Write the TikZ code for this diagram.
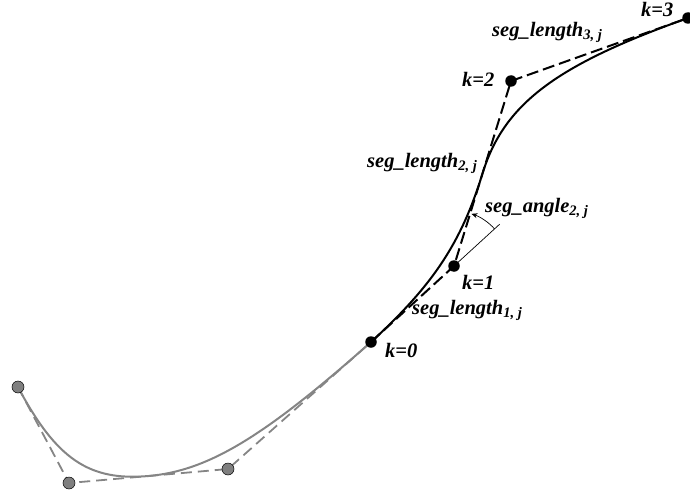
\documentclass[tikz,border=0pt]{standalone}
\usepackage{fontspec}
\setmainfont{Liberation Serif}
\usepackage{tikz}
\usetikzlibrary{arrows.meta, calc}
\definecolor{grayline}{HTML}{858585}
\definecolor{grayfill}{HTML}{7F7F7F}
\newcommand{\lblfont}{\bfseries\itshape\fontsize{20.5}{23}\selectfont}
\newcommand{\lsub}[1]{\raisebox{-3pt}{\fontsize{14.5}{15}\selectfont #1}}
\newcommand{\ff}{0.75}
\tikzset{
    ptblack/.style={circle, fill=black, inner sep=0pt, minimum size=11.5pt},
    ptgray/.style={circle, fill=grayfill, draw=black, line width=0.5pt, inner sep=0pt, minimum size=12pt},
    curveblack/.style={line width=2pt},
    polyblack/.style={line width=2pt, dash pattern=on 12pt off 5pt},
    curvegray/.style={draw=grayline, line width=2pt},
    polygray/.style={draw=grayline, line width=1.8pt, dash pattern=on 11pt off 6pt},
    anglearc/.style={line width=0.7pt, -{Stealth[length=6pt, width=5pt]}},
    lbl/.style={font=\lblfont, inner sep=0pt, anchor=base west},
}

\begin{document}
\begin{tikzpicture}[x=1pt, y=-1pt]

        \useasboundingbox (0,0) rectangle (690,492);

% =========================================================
% control points
% =========================================================

        \coordinate (g0) at (18,387);
        \coordinate (g1) at (69,483);
        \coordinate (g2) at (228,469);
        \coordinate (k0) at (371,342);
        \coordinate (k1) at (454,266);
        \coordinate (k2) at (511,81);
        \coordinate (k3) at (688,18);

        \coordinate (mg) at ($(g1)!0.5!(g2)$);
        \coordinate (mk) at ($(k1)!0.5!(k2)$);
        \coordinate (tk) at ($(k0)!1.55!(k1)$);

% previous segment (gray)
        \draw[polygray] (g0) -- (g1) -- (g2) -- (k0);
        \draw[curvegray] (g0) .. controls ($(g0)!\ff!(g1)$) and ($(mg)!\ff!(g1)$) .. (mg)
                              .. controls ($(mg)!\ff!(g2)$) and ($(k0)!\ff!(g2)$) .. (k0);

% current segment (black)
        \draw[polyblack] (k0) -- (k1) -- (k2) -- (k3);
        \draw[curveblack] (k0) .. controls ($(k0)!\ff!(k1)$) and ($(mk)!\ff!(k1)$) .. (mk)
                               .. controls ($(mk)!\ff!(k2)$) and ($(k3)!\ff!(k2)$) .. (k3);

% angle at k=1
        \draw[line width=0.7pt] (k1) -- (tk);
        \draw[anglearc] ($(k1)+(-42.5:55)$) arc[start angle=-42.5, end angle=-71.5, radius=55];

% points
        \foreach \p in {g0, g1, g2} {
            \node[ptgray] at (\p) {};
        }
        \foreach \p in {k0, k1, k2, k3} {
            \node[ptblack] at (\p) {};
        }

% labels
        \node[lbl] (lk0) at (385,357) {k=0};
        \node[lbl] (lk1) at (462,289) {k=1};
        \node[lbl] (lk2) at (462,87)  {k=2};
        \node[lbl] (lk3) at (641,17)  {k=3};
        \node[lbl] (ls1) at (412,314) {seg\_length\lsub{1, j}};
        \node[lbl] (ls2) at (367,167) {seg\_length\lsub{2, j}};
        \node[lbl] (ls3) at (492,37)  {seg\_length\lsub{3, j}};
        \node[lbl] (la2) at (485,212) {seg\_angle\lsub{2, j}};

    \end{tikzpicture}
\end{document}
